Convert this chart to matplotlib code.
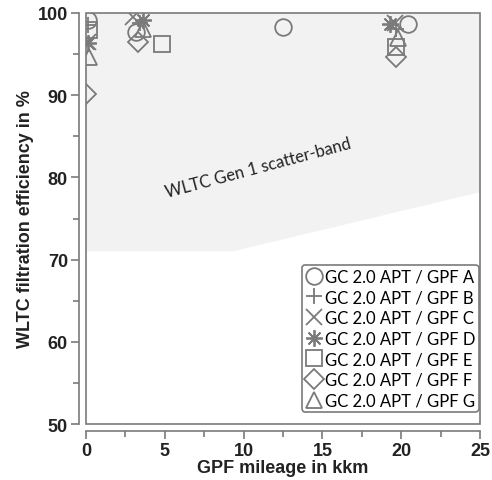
import matplotlib.pyplot as plt
from matplotlib.patches import Rectangle, Polygon

labels = ["GC 2.0 APT / GPF A", "GC 2.0 APT / GPF B", "GC 2.0 APT / GPF C",
          "GC 2.0 APT / GPF D", "GC 2.0 APT / GPF E", "GC 2.0 APT / GPF F",
          "GC 2.0 APT / GPF G"]
markers = ["o", "+", "x", (8, 2, 0), "s", "D", "^"]

x_a = [0.1, 3.2, 12.5, 20.4]
y_a = [99.2, 97.7, 98.3, 98.7]
x_b = [0.1, 3.4, 19.7]
y_b = [98.5, 98.8, 98.0]
x_c = [0.1, 3.0, 19.6]
y_c = [96.5, 99.5, 98.8]
x_d = [0.1, 3.6, 19.3]
y_d = [96.3, 99.2, 98.7]
x_e = [0.2, 4.8, 19.7]
y_e = [97.9, 96.2, 95.9]
x_f = [0.0, 3.3, 19.7]
y_f = [90.1, 96.5, 94.6]
x_g = [0.2, 3.6, 19.8]
y_g = [94.6, 98.0, 97.0]

band_x = [0, 9.3, 25, 25, 0]
band_y = [71, 71, 78.2, 100, 100]

series = [(x_a, y_a), (x_b, y_b), (x_c, y_c), (x_d, y_d),
          (x_e, y_e), (x_f, y_f), (x_g, y_g)]

grey = "#7a7a7a"

fig = plt.figure(figsize=(4.92, 4.81), dpi=100)
ax = fig.add_axes([0.1748, 0.1164, 0.8008, 0.8545])

ax.add_patch(Polygon(list(zip(band_x, band_y)), closed=True,
                     facecolor="#f2f2f2", edgecolor="none", zorder=0))
ax.text(10.9, 81.2, "WLTC Gen 1 scatter-band", rotation=15, ha="center",
        va="center", fontsize=12, family="Lato", color="#222222")

for (xs, ys), m, lab in zip(series, markers, labels):
    ms = 10 if m == "D" else 12
    ax.plot(xs, ys, linestyle="none", marker=m, markersize=ms,
            markerfacecolor="none", markeredgecolor=grey,
            markeredgewidth=1.3, label=lab, zorder=3)

ax.set_xlim(0, 25)
ax.set_ylim(50, 100)
ax.set_xticks([0, 5, 10, 15, 20, 25])
ax.set_xticks([2.5, 7.5, 12.5, 17.5, 22.5], minor=True)
ax.set_yticks([50, 60, 70, 80, 90, 100])
ax.set_yticks([55, 65, 75, 85, 95], minor=True)

for side in ["top", "right"]:
    ax.spines[side].set_visible(False)
for side in ["left", "bottom"]:
    ax.spines[side].set_position(("outward", 5))
    ax.spines[side].set_color(grey)
    ax.spines[side].set_linewidth(1.2)
ax.add_patch(Rectangle((0, 0), 1, 1, transform=ax.transAxes, fill=False,
                       edgecolor=grey, linewidth=1.2, clip_on=False, zorder=5))

ax.tick_params(which="both", direction="out", color=grey, width=1.2)
ax.tick_params(which="major", length=6, labelsize=13, pad=2)
ax.tick_params(which="minor", length=4)
for t in ax.get_xticklabels() + ax.get_yticklabels():
    t.set_fontweight("bold")
    t.set_family("Liberation Sans")
    t.set_color("#222222")

ax.set_xlabel("GPF mileage in kkm", fontsize=13, fontweight="bold",
              family="Liberation Sans", labelpad=0, color="#222222")
ax.set_ylabel("WLTC filtration efficiency in %", fontsize=13,
              fontweight="bold", family="Liberation Sans", labelpad=3,
              color="#222222")

leg = ax.legend(loc="lower right", bbox_to_anchor=(0.997, 0.03),
                prop={"family": "Lato", "size": 12},
                frameon=True, fancybox=True, edgecolor=grey, framealpha=1,
                handletextpad=0.1, borderpad=0.2, labelspacing=0.28,
                handlelength=1.1, borderaxespad=0)
leg.get_frame().set_linewidth(1.2)

fig.savefig("out.png", dpi=100)
